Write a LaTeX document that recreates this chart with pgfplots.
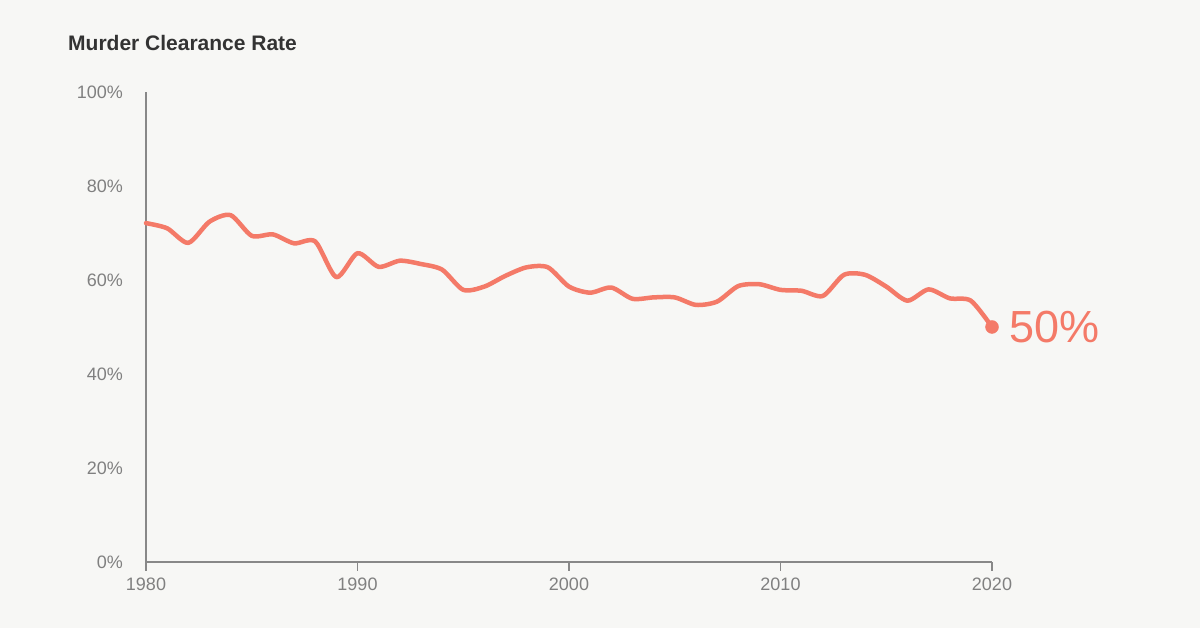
\documentclass[border=0pt]{standalone}
\usepackage{pgfplots}
\pgfplotsset{compat=1.18}
\usepackage{fontspec}
\setmainfont{Liberation Sans}
\definecolor{bg}{HTML}{F7F7F5}
\definecolor{salmon}{HTML}{F47A68}
\definecolor{axgray}{HTML}{888888}
\definecolor{labgray}{HTML}{808080}
\definecolor{titlegray}{HTML}{333333}
\begin{document}
\begin{tikzpicture}
\fill[bg] (0pt,0pt) rectangle (1200pt,628pt);
\node[anchor=base west, inner sep=0pt, text=titlegray, font=\fontsize{21}{24}\selectfont\bfseries] at (68pt,577pt) {Murder Clearance Rate};
\begin{axis}[
  at={(146pt,66pt)}, anchor=south west,
  scale only axis, width=846pt, height=470pt,
  xmin=1980, xmax=2020, ymin=0, ymax=100,
  axis x line*=bottom, axis y line*=left,
  axis line style={-, draw=axgray, line width=1.2pt},
  xtick={1980,1990,2000,2010,2020},
  ytick={0,20,40,60,80,100},
  tick align=outside,
  major tick length=9pt,
  xtick style={draw=axgray, line width=1.2pt},
  ytick style={draw=none},
  /pgf/number format/assume math mode=true,
  /pgf/number format/1000 sep={},
  yticklabel={\pgfmathprintnumber{\tick}\%},
  ticklabel style={text=labgray, font=\fontsize{18}{20}\selectfont},
  yticklabel style={inner sep=0pt, xshift=-14pt},
  xticklabel style={inner sep=0pt, yshift=-7pt},
  clip=false,
]
\addplot[salmon, line width=4.5pt, smooth, tension=0.45, line cap=round, line join=round] coordinates {
(1980,72.1) (1981,71.0) (1982,67.9) (1983,72.4) (1984,73.8) (1985,69.4)
(1986,69.7) (1987,67.8) (1988,68.2) (1989,60.6) (1990,65.7) (1991,62.8)
(1992,64.1) (1993,63.4) (1994,62.2) (1995,57.9) (1996,58.6) (1997,60.9)
(1998,62.7) (1999,62.7) (2000,58.6) (2001,57.3) (2002,58.4) (2003,56.0)
(2004,56.3) (2005,56.3) (2006,54.7) (2007,55.4) (2008,58.7) (2009,59.1)
(2010,57.9) (2011,57.7) (2012,56.6) (2013,61.1) (2014,61.1) (2015,58.6)
(2016,55.6) (2017,58.0) (2018,56.1) (2019,55.6) (2020,50.0)
};
\addplot[salmon, only marks, mark=*, mark size=6.5pt] coordinates {(2020,50.0)};
\node[anchor=west, inner sep=0pt, text=salmon, font=\fontsize{45}{50}\selectfont] at (axis cs:2020,50) [xshift=17pt] {50\%};
\end{axis}
\end{tikzpicture}
\end{document}
